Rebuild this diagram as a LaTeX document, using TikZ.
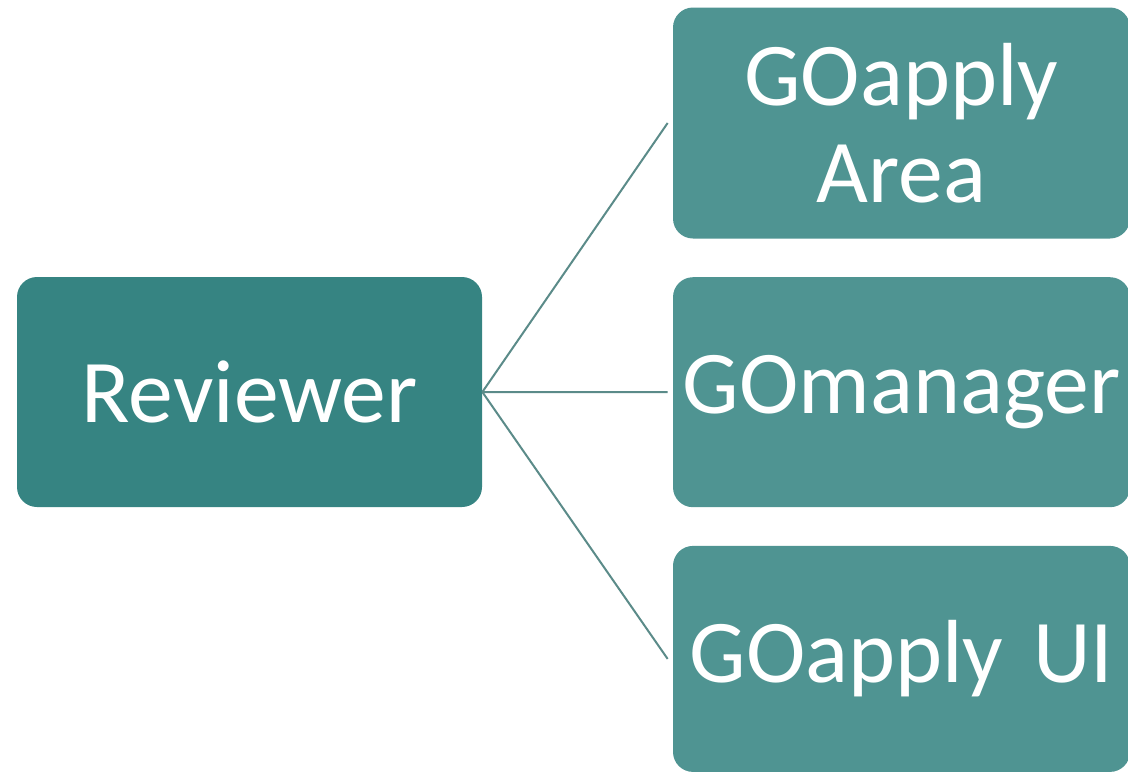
\documentclass[tikz,border=0pt]{standalone}
\usepackage{fontspec}
\setmainfont{Carlito}
\usetikzlibrary{positioning}
\definecolor{darkteal}{HTML}{368482}
\definecolor{lightteal}{HTML}{4F9492}
\definecolor{linkteal}{HTML}{5B8B89}

\begin{document}
\begin{tikzpicture}[node distance=0.76cm, auto]
        \tikzstyle{block} = [rectangle, fill=lightteal, text=white, text width=9.14cm, align=center, rounded corners=0.4cm, minimum width=9.14cm, minimum height=4.62cm, inner sep=0pt, font=\fontsize{51}{55}\selectfont]
        \tikzstyle{link} = [draw=linkteal, line width=0.04cm]
        \useasboundingbox (0,0) rectangle (22.56,-15.46);
        \node[block, fill=darkteal, text width=9.3cm, minimum width=9.3cm, minimum height=4.6cm] (reviewer) at (4.99,-7.84) {Reviewer};
        \node[block] (area) at (18.03,-2.46) {GOapply\\Area};
        \node[block, below=of area, minimum height=4.6cm] (manager) {GOmanager};
        \node[block, below=of manager, minimum height=4.52cm] (ui) {GOapply UI};
        \draw[link] (reviewer.east) -- ([xshift=-0.1cm]area.west);
        \draw[link] (reviewer.east) -- ([xshift=-0.1cm]manager.west);
        \draw[link] (reviewer.east) -- ([xshift=-0.1cm]ui.west);
    \end{tikzpicture}
\end{document}
